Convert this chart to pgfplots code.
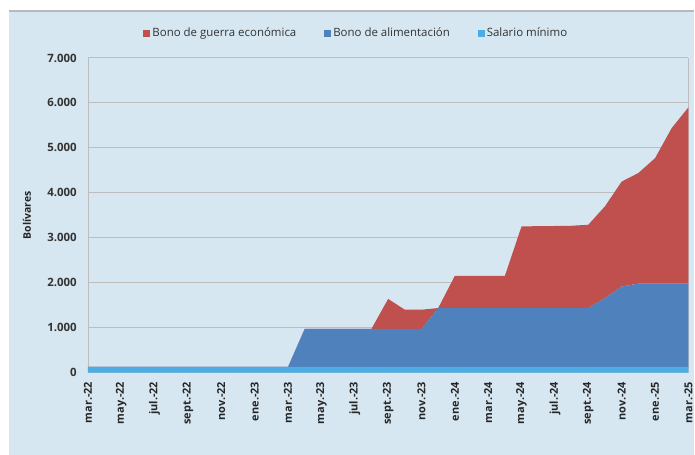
\documentclass[border=0pt]{standalone}
\usepackage{fontspec}
\setmainfont{Open Sans}
\usepackage{pgfplots}
\usepackage{pgfplotstable}
\pgfplotsset{compat=1.18}
\definecolor{bg}{HTML}{D6E7F1}
\definecolor{cred}{HTML}{C0504D}
\definecolor{cblue}{HTML}{4F81BD}
\definecolor{clight}{HTML}{4BACE6}
\definecolor{gridc}{HTML}{BDBDBD}
\pgfplotstableread{
m sal ali gue
0 130 0 0
1 130 0 0
2 130 0 0
3 130 0 0
4 130 0 0
5 130 0 0
6 130 0 0
7 130 0 0
8 130 0 0
9 130 0 0
10 130 0 0
11 130 0 0
12 130 0 0
13 130 845 0
14 130 845 0
15 130 845 0
16 130 845 0
17 130 845 0
18 130 845 665
19 130 845 425
20 130 845 425
21 130 1307 0
22 130 1307 718
23 130 1307 718
24 130 1307 718
25 130 1307 718
26 130 1307 1818
27 130 1307 1820
28 130 1307 1825
29 130 1307 1830
30 130 1307 1853
31 130 1530 2040
32 130 1785 2335
33 130 1850 2460
34 130 1850 2790
35 130 1850 3460
36 130 1850 3920
}\datatable
\begin{document}
\begin{tikzpicture}[x=1bp,y=1bp]
\fill[white] (0,0) rectangle (695,455);
\fill[bg] (9,0) rectangle (695,444);
\draw[gray!55, line width=1.3bp] (9,444) -- (695,444);
\begin{axis}[
  at={(88bp,82bp)}, anchor=south west,
  scale only axis, width=601bp, height=315bp,
  xmin=0, xmax=36, ymin=0, ymax=7000,
  stack plots=y,
  axis line style={draw=none},
  separate axis lines,
  y axis line style={draw=gridc, line width=0.8bp},
  major tick length=0pt,
  xtick={0,2,...,36},
  xticklabels={mar.-22,may.-22,jul.-22,sept.-22,nov.-22,ene.-23,mar.-23,may.-23,jul.-23,sept.-23,nov.-23,ene.-24,mar.-24,may.-24,jul.-24,sept.-24,nov.-24,ene.-25,mar.-25},
  xticklabel style={rotate=90, anchor=east, font=\fontsize{11}{12}\selectfont\bfseries, text=black!85, inner sep=0pt},
  xticklabel shift=9bp,
  ytick={0,1000,...,7000},
  yticklabel style={font=\fontsize{11.5}{13}\selectfont\bfseries, text=black!80, inner sep=0pt},
  yticklabel shift=11bp,
  /pgf/number format/.cd, 1000 sep={.}, assume math mode=true, /pgfplots/.cd,
  ymajorgrids, grid style={draw=gridc, line width=1bp},
  ylabel={Bolívares},
  every axis y label/.style={at={(27bp-88bp, 0.5*315bp)}, rotate=90, anchor=center,
    font=\fontsize{10.5}{12}\selectfont\bfseries, text=black!85},
  legend style={at={(0.447,1.079)}, anchor=center, draw=none, fill=none,
    legend columns=3, font=\fontsize{11.5}{13}\selectfont, text=black!80,
    /tikz/every even column/.append style={column sep=26bp}},
  reverse legend,
  legend image code/.code={\path[#1, draw=none] (0bp,-3.5bp) rectangle (7bp,3.5bp);},
]
\addplot[fill=clight, draw=none] table[x=m, y=sal]{\datatable} \closedcycle;
\addlegendentry{Salario mínimo}
\addplot[fill=cblue, draw=none] table[x=m, y=ali]{\datatable} \closedcycle;
\addlegendentry{Bono de alimentación}
\addplot[fill=cred, draw=none] table[x=m, y=gue]{\datatable} \closedcycle;
\addlegendentry{Bono de guerra económica}
\end{axis}
\end{tikzpicture}
\end{document}
